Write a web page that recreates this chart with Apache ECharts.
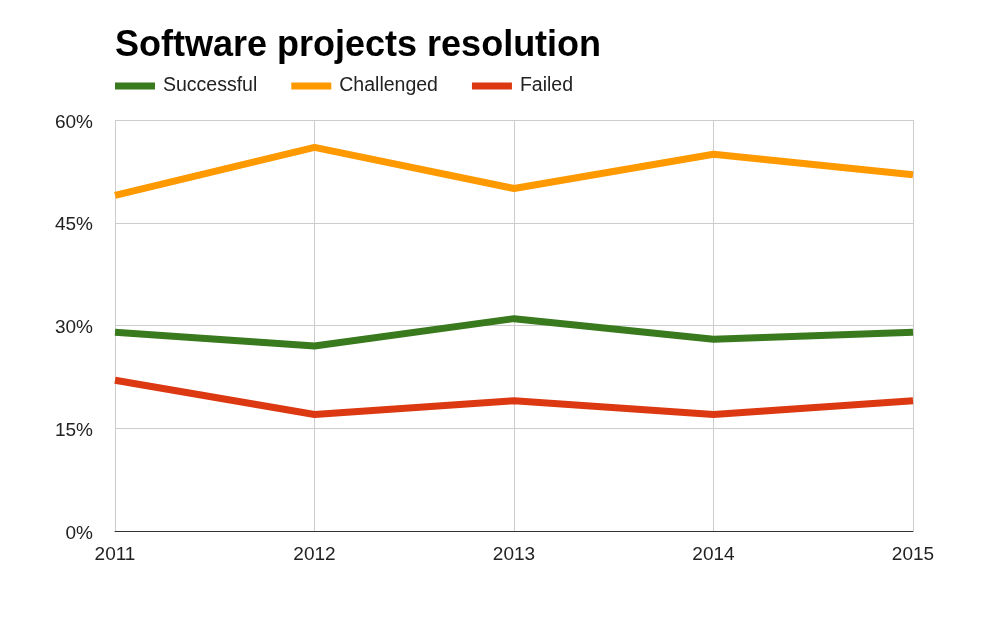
<!DOCTYPE html>
<html>
<head>
<meta charset="utf-8">
<script src="https://cdn.jsdelivr.net/npm/echarts@6/dist/echarts.min.js"></script>
<style>
  html, body { margin: 0; padding: 0; background: #fff; }
  #chart { width: 986px; height: 630px; }
</style>
</head>
<body>
<div id="chart"></div>
<script>
// data
var years = ['2011', '2012', '2013', '2014', '2015'];
var successful = [29, 27, 31, 28, 29];
var challenged = [49, 56, 50, 55, 52];
var failed = [22, 17, 19, 17, 19];
var yTicks = [0, 15, 30, 45, 60];

var chart = echarts.init(document.getElementById('chart'));

function line(name, data, color) {
    return {
        name: name,
        type: 'line',
        data: data,
        symbol: 'none',
        lineStyle: { width: 7, color: color },
        itemStyle: { color: color }
    };
}

var option = {
    animation: false,
    textStyle: { fontFamily: 'Liberation Sans, Arial, sans-serif' },
    title: {
        text: 'Software projects resolution',
        left: 115,
        top: 28,
        padding: 0,
        textStyle: { fontSize: 36, fontWeight: 'bold', color: '#000' }
    },
    legend: {
        left: 115,
        top: 76,
        padding: 0,
        icon: 'rect',
        itemWidth: 40,
        itemHeight: 7,
        itemGap: 34,
        textStyle: { fontSize: 19.5, color: '#222', padding: [0, 0, 0, 3] },
        data: ['Successful', 'Challenged', 'Failed']
    },
    grid: { left: 115, right: 73, top: 120, bottom: 99 },
    xAxis: {
        type: 'category',
        data: years,
        boundaryGap: false,
        axisLine: { lineStyle: { color: '#333', width: 1 } },
        axisTick: { show: false },
        axisLabel: { fontSize: 19, color: '#222', margin: 14 },
        splitLine: { show: true, lineStyle: { color: '#ccc' } }
    },
    yAxis: {
        type: 'value',
        min: yTicks[0],
        max: yTicks[yTicks.length - 1],
        interval: 15,
        axisLine: { show: false },
        axisTick: { show: false },
        axisLabel: {
            fontSize: 19, color: '#222', margin: 22,
            verticalAlign: 'top', lineHeight: 19, padding: [-7, 0, 0, 0],
            formatter: '{value}%'
        },
        splitLine: { lineStyle: { color: '#ccc' } }
    },
    series: [
        line('Successful', successful, '#3a7a1e'),
        line('Challenged', challenged, '#ff9900'),
        line('Failed', failed, '#dc3912')
    ]
};

chart.setOption(option);
</script>
</body>
</html>
